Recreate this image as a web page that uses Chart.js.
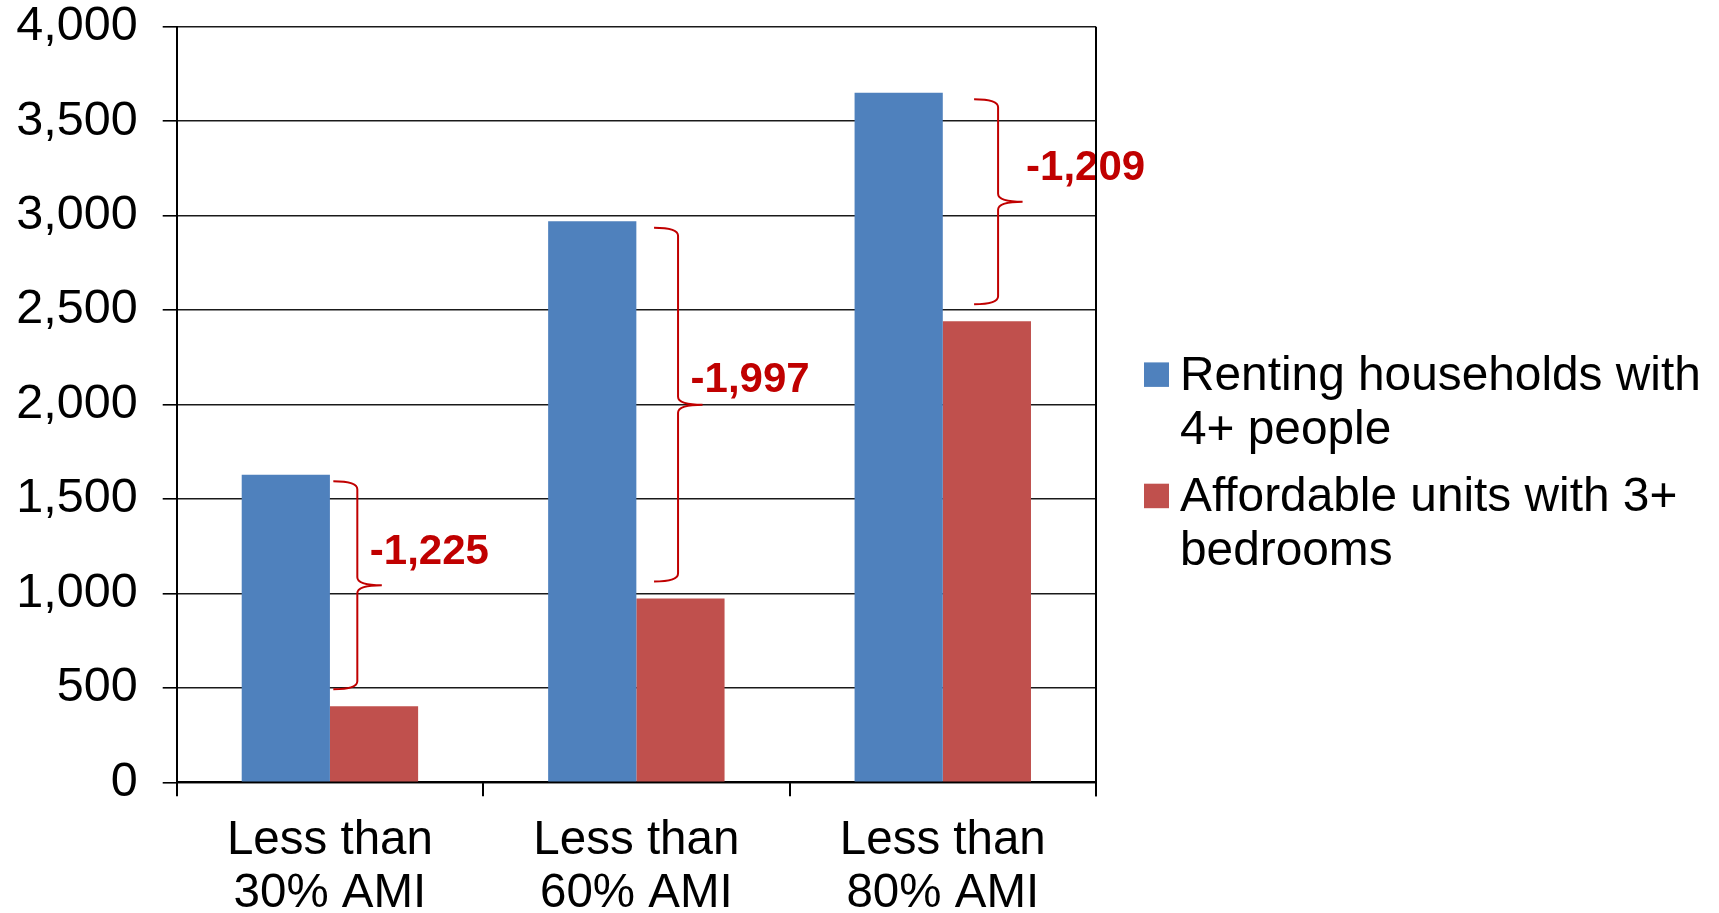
<!DOCTYPE html>
<html>
<head>
<meta charset="utf-8">
<script src="https://cdn.jsdelivr.net/npm/chart.js@4.4.1/dist/chart.umd.min.js"></script>
<style>
  html, body { margin: 0; padding: 0; background: #fff; }
  #wrap { width: 1719px; height: 913px; position: relative; }
</style>
</head>
<body>
<div id="wrap"><canvas id="chart"></canvas></div>
<script>
// values
const categories = [['Less than', '30% AMI'], ['Less than', '60% AMI'], ['Less than', '80% AMI']];
const seriesNames = [['Renting households with', '4+ people'], ['Affordable units with 3+', 'bedrooms']];
const renters = [1628, 2970, 3650];
const affordable = [403, 973, 2441];
const gapLabels = ['-1,225', '-1,997', '-1,209'];
const yMin = 0, yMax = 4000, yStep = 500;

const FONT = '"Liberation Sans", Arial, sans-serif';
Chart.defaults.font.family = FONT;
Chart.defaults.color = '#000';

// curly braces between the two bars + gap text
const gapBrackets = {
    id: 'gapBrackets',
    afterDatasetsDraw(chart, args, opts) {
        const ctx = chart.ctx;
        const y = chart.scales.y;
        const red = chart.getDatasetMeta(1).data;
        ctx.save();
        ctx.strokeStyle = opts.color;
        ctx.fillStyle = opts.color;
        ctx.lineWidth = 2;
        ctx.font = 'bold 42px ' + FONT;
        ctx.textAlign = 'left';
        ctx.textBaseline = 'middle';
        gapLabels.forEach((label, i) => {
            const x0 = red[i].x - red[i].width / 2 + opts.shift[i];
            const xs = x0 + 24, xt = x0 + 48.5;
            const top = y.getPixelForValue(renters[i]) + 6.5;
            const bot = y.getPixelForValue(affordable[i]) - 17;
            const mid = (top + bot) / 2;
            const r = 8;
            ctx.beginPath();
            ctx.moveTo(x0, top);
            ctx.quadraticCurveTo(xs, top, xs, top + r);
            ctx.lineTo(xs, mid - r);
            ctx.quadraticCurveTo(xs, mid, xt, mid);
            ctx.quadraticCurveTo(xs, mid, xs, mid + r);
            ctx.lineTo(xs, bot - r);
            ctx.quadraticCurveTo(xs, bot, x0, bot);
            ctx.stroke();
            ctx.fillText(label, xt + opts.labelDx[i], mid + opts.labelDy[i]);
        });
        ctx.restore();
    }
};

// right border of the plot + legend with wrapped labels
const sideLegend = {
    id: 'sideLegend',
    afterDraw(chart, args, opts) {
        const ctx = chart.ctx;
        const area = chart.chartArea;
        ctx.save();
        ctx.strokeStyle = '#000';
        ctx.lineWidth = 2;
        ctx.beginPath();
        ctx.moveTo(area.right, area.top);
        ctx.lineTo(area.right, area.bottom + 14);
        ctx.stroke();

        const left = area.right + 48;
        let lineY = opts.top;
        ctx.font = '47.8px ' + FONT;
        ctx.textAlign = 'left';
        ctx.textBaseline = 'middle';
        chart.data.datasets.forEach((ds, i) => {
            ctx.fillStyle = ds.backgroundColor;
            ctx.fillRect(left, lineY - 14, 25, 24.5);
            ctx.fillStyle = '#000';
            seriesNames[i].forEach((line, k) => {
                ctx.fillText(line, left + 36, lineY + k * opts.lineGap);
            });
            lineY += seriesNames[i].length * opts.lineGap + opts.itemGap;
        });
        ctx.restore();
    }
};

new Chart(document.getElementById('chart'), {
    type: 'bar',
    data: {
        labels: categories,
        datasets: [
            { label: seriesNames[0].join(' '), data: renters, backgroundColor: '#4F81BD' },
            { label: seriesNames[1].join(' '), data: affordable, backgroundColor: '#C0504D' }
        ]
    },
    options: {
        responsive: true,
        maintainAspectRatio: false,
        animation: false,
        categoryPercentage: 0.5757,
        barPercentage: 1,
        layout: { padding: { top: 0, right: 623, bottom: 0, left: 0 } },
        plugins: {
            legend: { display: false },
            tooltip: { enabled: false },
            gapBrackets: { color: '#C00000', shift: [3.4, 17.7, 31.3], labelDx: [-12, -12, 3.5], labelDy: [-32.5, -24.5, -33] },
            sideLegend: { top: 376.4, lineGap: 54.3, itemGap: 12.7 }
        },
        scales: {
            x: {
                grid: { drawOnChartArea: false, offset: true, tickLength: 14, tickColor: '#000', lineWidth: 2 },
                border: { color: '#000', width: 2 },
                ticks: { font: { size: 47.5, lineHeight: 1.105 }, padding: 18.8, maxRotation: 0, autoSkip: false },
                afterFit(scale) { scale.height = 130.7; }
            },
            y: {
                min: yMin,
                max: yMax,
                grid: { color: '#1a1a1a', lineWidth: 1.6, tickLength: 14, tickColor: '#000' },
                border: { color: '#000', width: 2 },
                ticks: {
                    stepSize: yStep,
                    font: { size: 48.5 },
                    padding: 25,
                    callback: v => v.toLocaleString('en-US')
                },
                afterFit(scale) {
                    scale.width = 176.7;
                    scale.paddingTop = 26.7;
                    scale.paddingBottom = 0;
                }
            }
        }
    },
    plugins: [gapBrackets, sideLegend]
});
</script>
</body>
</html>
